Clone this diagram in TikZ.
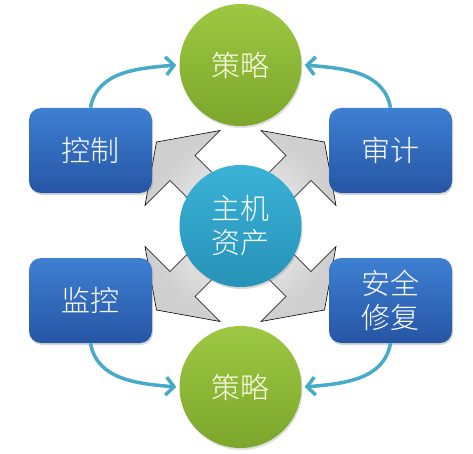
\documentclass[tikz,border=0pt]{standalone}
\usepackage{fontspec}
\newfontfamily\cjk[UprightFont={* Light}]{Noto Sans CJK SC}
\usetikzlibrary{arrows.meta,shadows,calc}
\definecolor{boxtop}{HTML}{3E80D2}
\definecolor{boxbot}{HTML}{2655A5}
\definecolor{grtop}{HTML}{9DC842}
\definecolor{grbot}{HTML}{7CA62B}
\definecolor{cytop}{HTML}{3AB2D6}
\definecolor{cybot}{HTML}{2792B8}
\definecolor{arrowcol}{HTML}{46AAC8}
\tikzset{
  bluebox/.style={rectangle, rounded corners=12pt, minimum width=123pt, minimum height=85pt,
    top color=boxtop, bottom color=boxbot, draw=none, text=white, align=center,
    font=\cjk\fontsize{29}{34}\selectfont,
    drop shadow={opacity=0.3, shadow xshift=1pt, shadow yshift=-2pt}},
  greencirc/.style={circle, minimum size=122pt, inner sep=0pt, top color=grtop, bottom color=grbot,
    draw=none, text=white!92!yellow, font=\cjk\fontsize{29}{34}\selectfont,
    drop shadow={opacity=0.25, shadow xshift=1pt, shadow yshift=-2pt}},
  hubcirc/.style={circle, minimum size=122pt, inner sep=0pt, top color=cytop, bottom color=cybot,
    draw=none, text=white, align=center, font=\cjk\fontsize{29}{34}\selectfont,
    drop shadow={opacity=0.3, shadow xshift=1pt, shadow yshift=-2pt}},
  flow/.style={draw=arrowcol, line width=3.5pt, -{Straight Barb[length=8pt,width=18pt]}},
  quad/.style={draw=black, line width=0.6pt, inner color=gray!4, outer color=gray!38}
}
\begin{document}
\begin{tikzpicture}[x=1pt,y=1pt]
\useasboundingbox (0,0) rectangle (473,453);
\fill[white] (0,0) rectangle (473,453);
% quad arrow behind hub
\begin{scope}[shift={(240.5,227)}]
\path[quad] (0,25) -- (45.5,70.5) -- (20.5,95.5) -- (84,84) -- (95.5,20.5) -- (70.5,45.5)
 -- (25,0) -- (70.5,-45.5) -- (95.5,-20.5) -- (84,-84) -- (20.5,-95.5) -- (45.5,-70.5)
 -- (0,-25) -- (-45.5,-70.5) -- (-20.5,-95.5) -- (-84,-84) -- (-95.5,-20.5) -- (-70.5,-45.5)
 -- (-25,0) -- (-70.5,45.5) -- (-95.5,20.5) -- (-84,84) -- (-20.5,95.5) -- (-45.5,70.5) -- cycle;
\end{scope}
\node[hubcirc] (hub) at (240.5,227) {主机\\资产};
\node[bluebox] (ctrl) at (90.5,302.5) {控制};
\node[bluebox] (audit) at (390.5,302.5) {审计};
\node[bluebox] (mon) at (90.5,152.5) {监控};
\node[bluebox] (fix) at (390.5,152.5) {安全\\修复};
\node[greencirc] (topc) at (240.5,388) {策略};
\node[greencirc] (botc) at (240.5,66) {策略};
\draw[flow] (ctrl.north) to[out=80,in=185] ([xshift=-3pt]topc.west);
\draw[flow] (audit.north) to[out=100,in=-5] ([xshift=3pt]topc.east);
\draw[flow] (mon.south) to[out=-80,in=175] ([xshift=-3pt]botc.west);
\draw[flow] (fix.south) to[out=-100,in=5] ([xshift=3pt]botc.east);
\end{tikzpicture}
\end{document}
